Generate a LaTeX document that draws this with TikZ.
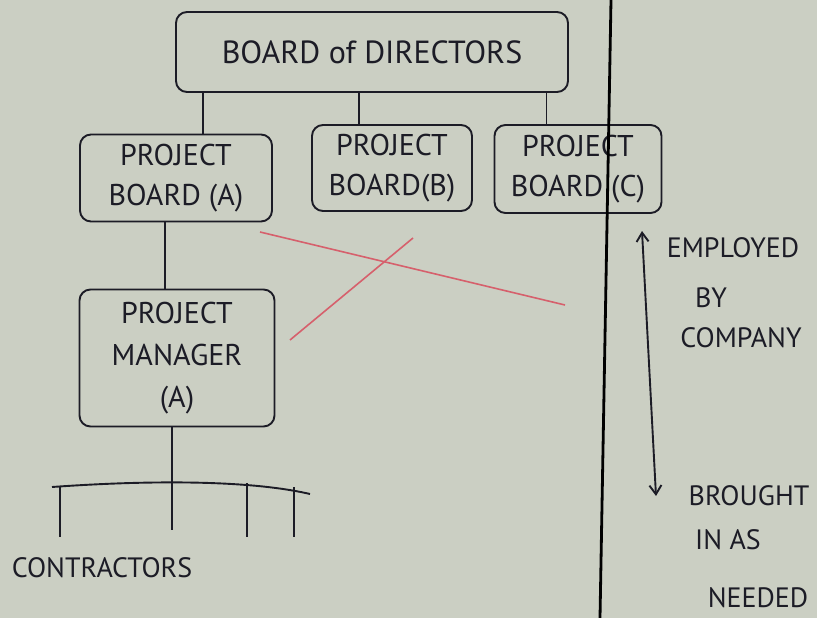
\documentclass[tikz,border=0pt]{standalone}
\usepackage{fontspec}
\setmainfont{PT Sans}
\usepackage{tikz}
\usetikzlibrary{arrows.meta}
\usepackage{xcolor}
\definecolor{board}{RGB}{203,207,195}
\definecolor{ink}{RGB}{28,28,38}
\definecolor{marker}{RGB}{214,96,108}

\begin{document}
\begin{tikzpicture}[x=1pt,y=-1pt,color=ink,line width=1.9pt,
    box/.style={draw,rounded corners=11pt,align=center,inner sep=0pt,font=\fontsize{30}{40}\selectfont},
    hand/.style={inner sep=0pt,font=\fontsize{28}{34}\selectfont},
    barb/.style={{Straight Barb[length=9pt,width=12pt]}-{Straight Barb[length=9pt,width=12pt]}}]
        \fill[board] (0,0) rectangle (817,618);
        \useasboundingbox (0,0) rectangle (817,618);
        \node[box,minimum width=392pt,minimum height=80pt,font=\fontsize{32}{40}\selectfont] (bod) at (372,52) {BOARD of DIRECTORS};
        \node[box,minimum width=192pt,minimum height=87pt] (pba) at (176,178) {PROJECT\\BOARD (A)};
        \node[box,minimum width=160pt,minimum height=86pt] (pbb) at (392,168) {PROJECT\\BOARD(B)};
        \node[box,minimum width=167pt,minimum height=88pt] (pbc) at (578,169) {PROJECT\\BOARD (C)};
        \node[box,minimum width=195pt,minimum height=137pt,font=\fontsize{30}{42}\selectfont] (pm) at (177,358) {PROJECT\\MANAGER\\(A)};
        \node[hand] (con) at (102,568) {CONTRACTORS};
        \node[hand] (emp) at (733,248) {EMPLOYED};
        \node[hand] (by) at (711,298) {BY};
        \node[hand] (comp) at (741,338) {COMPANY};
        \node[hand] (brought) at (749,496) {BROUGHT};
        \node[hand] (inas) at (728,540) {IN AS};
        \node[hand] (need) at (758,598) {NEEDED};
        \coordinate (up) at (642,231);
        \coordinate (down) at (656,496);
        \coordinate (divtop) at (611,0);
        \coordinate (divbot) at (600,618);
        \coordinate (barl) at (52,487);
        \coordinate (barr) at (310,494);
        \draw (pba.59) to (pba.59 |- bod.south);
        \draw (pbb.127) to (pbb.127 |- bod.south);
        \draw (pbc.125) to (pbc.125 |- bod.south);
        \draw ([xshift=-11pt]pba.south) to ([xshift=-11pt]pba.south |- pm.north);
        \draw ([xshift=-5pt]pm.south) -- ++(0,103);
        \draw (barl) .. controls (150,480) and (250,480) .. (barr);
        \foreach \x/\y in {60/487,247/483,294/487}
          \draw (\x,\y) -- (\x,537);
        \draw[line width=2.8pt,black] (divtop) -- (divbot);
        \draw[barb] (up) to (down);
        \draw[marker,line width=1.6pt] (260,232) -- (565,305);
        \draw[marker,line width=1.6pt] (290,340) -- (413,238);
      \end{tikzpicture}
\end{document}
